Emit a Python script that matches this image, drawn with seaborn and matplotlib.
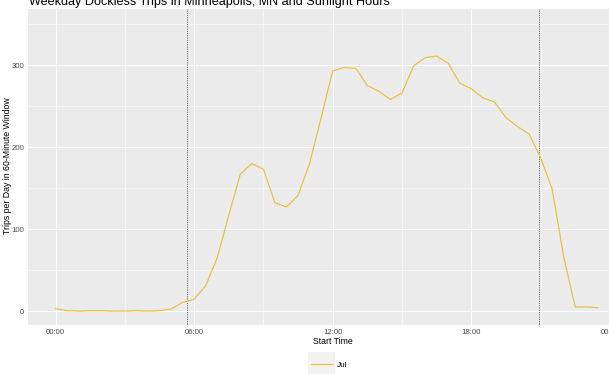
import matplotlib
matplotlib.use("Agg")
import matplotlib.pyplot as plt
import matplotlib.patches as mpatches
import seaborn as sns
import pandas as pd

# ---- data ----
times = ["00:00", "00:30", "01:00", "01:30", "02:00", "02:30", "03:00", "03:30",
         "04:00", "04:30", "05:00", "05:30", "06:00", "06:30", "07:00", "07:30",
         "08:00", "08:30", "09:00", "09:30", "10:00", "10:30", "11:00", "11:30",
         "12:00", "12:30", "13:00", "13:30", "14:00", "14:30", "15:00", "15:30",
         "16:00", "16:30", "17:00", "17:30", "18:00", "18:30", "19:00", "19:30",
         "20:00", "20:30", "21:00", "21:30", "22:00", "22:30", "23:00", "23:30"]
trips = [3, 0.5, 0, 0.5, 0.5, 0, 0, 0.5,
         0, 0.5, 2.5, 10.5, 14.5, 31, 65, 117,
         167, 180, 173, 132, 127, 141, 180, 236,
         293, 297, 296, 275, 268, 258, 266, 299,
         309, 311, 302, 278, 271, 260, 255, 236,
         225, 216, 187, 149, 66, 5, 5, 4]
month = "Jul"
sunrise = "05:41"
sunset = "20:56"
x_tick_hours = [0, 6, 12, 18, 24]
x_tick_labels = ["00:00", "06:00", "12:00", "18:00", "00:00"]
y_ticks = [0, 100, 200, 300]
title = "Weekday Dockless Trips in Minneapolis, MN and Sunlight Hours"
x_title = "Start Time"
y_title = "Trips per Day in 60-Minute Window"


def to_hours(s):
    h, m = s.split(":")
    return int(h) + int(m) / 60.0


df = pd.DataFrame({"hour": [to_hours(t) for t in times],
                   "trips": trips,
                   "month": month})

# ---- figure ----
W, H = 609, 374
DPI = 72
sns.set_theme(style="darkgrid")
plt.rcParams["font.family"] = ["Liberation Sans", "DejaVu Sans"]

fig = plt.figure(figsize=(W / DPI, H / DPI), dpi=DPI)
fig.patch.set_facecolor("white")

# panel in pixel coordinates
left_px, right_px, top_px, bottom_px = 28.4, 625.5, 8.5, 325
pw, ph = right_px - left_px, bottom_px - top_px
ax = fig.add_axes([left_px / W, 1 - bottom_px / H, pw / W, ph / H])
ax.set_facecolor("#EBEBEB")

line_color = "#E8C13A"
sns.lineplot(data=df, x="hour", y="trips", hue="month",
             palette=[line_color], linewidth=1.2, ax=ax, legend=True)

for t in (sunrise, sunset):
    ax.axvline(to_hours(t), color="#5A5A5A", linestyle=(0, (1.0, 1.0)),
               linewidth=0.9, zorder=1.5)

ax.set_xlim(-1.175, 24.675)
ax.set_ylim(-17, 369)
ax.set_xticks(x_tick_hours)
ax.set_xticklabels(x_tick_labels)
ax.set_yticks(y_ticks)
ax.set_xticks([3, 9, 15, 21], minor=True)
ax.set_yticks([50, 150, 250, 350], minor=True)

ax.grid(which="major", color="white", linewidth=1.0)
ax.grid(which="minor", color="white", linewidth=0.5)
ax.set_axisbelow(True)
for s in ax.spines.values():
    s.set_visible(False)

ax.tick_params(axis="both", which="major", length=2.5, width=0.8,
               color="#333333", labelcolor="#4D4D4D", labelsize=7.8, pad=1.8)
ax.tick_params(axis="both", which="minor", length=0)

ax.set_xlabel(x_title, fontsize=8.8, color="black")
ax.set_ylabel(y_title, fontsize=8.8, color="black", va="center")
ax.xaxis.set_label_coords((333 - left_px) / pw, -(341.5 - bottom_px) / ph)
ax.yaxis.set_label_coords((7.2 - left_px) / pw, (bottom_px - 166) / ph)
ax.xaxis.label.set_va("center")

# title, partially cropped at top like the reference
fig.text(29 / W, 1 - 5.5 / H, title, fontsize=12.6, color="black",
         ha="left", va="baseline")

# legend with grey key box
handles, labels = ax.get_legend_handles_labels()
ax.get_legend().remove()
fig.patches.append(mpatches.Rectangle((308 / W, 1 - 378 / H), 27 / W, 26 / H,
                                      transform=fig.transFigure,
                                      facecolor="#F2F2F2", edgecolor="none",
                                      zorder=0))
leg = fig.legend(handles, labels, loc="center left",
                 bbox_to_anchor=(311 / W, 1 - 365 / H),
                 frameon=False, borderpad=0, borderaxespad=0,
                 handlelength=2.6, handletextpad=0.6, fontsize=8.2)
for t in leg.get_texts():
    t.set_color("black")

fig.savefig("out.png", dpi=DPI)
